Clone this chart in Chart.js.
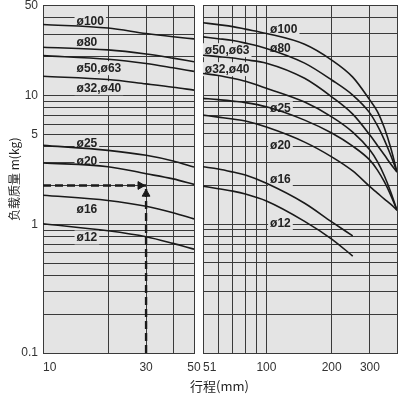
<!DOCTYPE html>
<html>
<head>
<meta charset="utf-8">
<script src="https://cdn.jsdelivr.net/npm/chart.js@4.4.1/dist/chart.umd.min.js"></script>
<style>
  html, body { margin: 0; padding: 0; background: #fff; }
  #wrap { position: relative; width: 405px; height: 398px; }
  #wrap canvas { position: absolute; top: 0; }
  #left { left: 0; }
  #right { left: 190px; }
</style>
</head>
<body>
<div id="wrap">
  <canvas id="left" width="202" height="398"></canvas>
  <canvas id="right" width="215" height="398"></canvas>
</div>
<script>
// axis ticks
const yTicks = [0.1, 0.2, 0.3, 0.4, 0.5, 0.6, 0.7, 0.8, 0.9, 1, 2, 3, 4, 5, 6, 7, 8, 9, 10, 20, 30, 40, 50];
const yLabels = [0.1, 1, 5, 10, 50];
const shortTicks = [10, 20, 30, 40, 50];
const shortLabels = [10, 30, 50];
const longTicks = [51, 60, 70, 80, 90, 100, 200, 300, 400];
const longLabels = [51, 100, 200, 300];

const bores = ['ø100', 'ø80', 'ø50,ø63', 'ø32,ø40', 'ø25', 'ø20', 'ø16', 'ø12'];

// stroke 10..50 mm
const shortStroke = [10, 20, 30, 40, 50];
const short100 = [35.6, 33.4, 30.3, 28.6, 27.5];
const short80 = [23.7, 22.6, 21.0, 19.5, 18.3];
const short50 = [20.4, 19.1, 17.7, 16.4, 15.4];
const short32 = [14.1, 13.3, 12.3, 11.6, 11.0];
const short25 = [4.1, 3.75, 3.43, 3.1, 2.78];
const short20 = [2.99, 2.8, 2.47, 2.25, 2.04];
const short16 = [1.68, 1.53, 1.38, 1.23, 1.1];
const short12 = [1.01, 0.89, 0.8, 0.71, 0.64];

// stroke 51..400 mm (ø16 and ø12 stop at 250)
const longStroke = [51, 60, 70, 80, 100, 150, 200, 250, 300, 325, 350, 375, 400];
const long100 = [36.4, 35.2, 34.0, 32.5, 30.1, 24.8, 18.7, 13.8, 9.15, 7.46, 5.55, 3.85, 2.53];
const long80 = [28.3, 27.4, 26.5, 25.3, 23.0, 17.7, 13.1, 10.0, 7.25, 5.79, 4.48, 3.39, 2.53];
const long50 = [20.4, 19.9, 19.4, 18.8, 17.7, 13.5, 9.7, 7.12, 4.9, 4.07, 3.43, 2.91, 2.53];
const long32 = [14.7, 14.2, 13.5, 12.8, 11.3, 8.83, 6.79, 5.17, 3.75, 3.05, 2.36, 1.76, 1.28];
const long25 = [9.43, 9.23, 8.98, 8.75, 8.12, 6.4, 5.08, 4.02, 3.13, 2.62, 2.12, 1.66, 1.28];
const long20 = [7.0, 6.75, 6.52, 6.29, 5.65, 4.32, 3.32, 2.58, 1.95, 1.74, 1.56, 1.42, 1.28];
const long16 = [2.78, 2.67, 2.53, 2.4, 2.07, 1.45, 1.04, 0.81];
const long12 = [1.97, 1.88, 1.8, 1.71, 1.51, 1.05, 0.765, 0.565];

// example reading: 30 mm stroke -> 2 kg
const exampleStroke = 30;
const exampleMass = 2;

// curve label anchors (data units)
const shortLabelX = [14.3, 14.3, 14.3, 14.3, 14.3, 14.3, 14.3, 14.3];
const shortLabelY = [38.1, 25.9, 16.3, 11.4, 4.27, 3.09, 1.32, 0.79];
const longLabelX = [104, 104, 52, 52, 104, 104, 104, 104];
const longLabelY = [32.5, 23.2, 22.3, 15.9, 7.92, 4.09, 2.23, 1.02];

const BG = '#e4e4e4';
const GRID = '#3a3a3a';
const INK = '#1a1a1a';
const tickFont = { family: '"Liberation Sans", Arial, sans-serif', size: 12 };
const cjkFont = '"Noto Sans CJK SC", "Liberation Sans", sans-serif';

function curve(xs, ys) {
    return {
        data: xs.slice(0, ys.length).map((x, i) => ({ x: x, y: ys[i] })),
        borderColor: INK,
        borderWidth: 1.6,
        pointRadius: 0,
        fill: false,
        cubicInterpolationMode: 'monotone'
    };
}

const panelPlugin = {
    id: 'panel',
    beforeDraw(chart) {
        const { ctx, chartArea: a } = chart;
        ctx.save();
        ctx.fillStyle = BG;
        ctx.fillRect(a.left, a.top, a.right - a.left, a.bottom - a.top);
        ctx.restore();
    },
    beforeDatasetsDraw(chart, args, opts) {
        const { ctx, scales } = chart;
        ctx.save();
        ctx.font = 'bold 12px "Liberation Sans", Arial, sans-serif';
        ctx.textBaseline = 'middle';
        opts.xs.forEach((lx, i) => {
            const px = scales.x.getPixelForValue(lx);
            const py = scales.y.getPixelForValue(opts.ys[i]);
            const w = ctx.measureText(bores[i]).width;
            ctx.fillStyle = BG;
            ctx.fillRect(px - 2, py - 7, w + 4, 14);
            ctx.fillStyle = '#222';
            ctx.fillText(bores[i], px, py + 0.5);
        });
        ctx.restore();
    }
};

function yScale(showLabels, width) {
    return {
        type: 'logarithmic',
        min: 0.1,
        max: 50,
        afterBuildTicks: (s) => { s.ticks = yTicks.map(v => ({ value: v })); },
        afterFit: (s) => {
            s.width = width;
            s.paddingTop = 0;
            s.paddingBottom = 0;
        },
        grid: { color: GRID, lineWidth: 1, drawTicks: false },
        border: { display: true, color: GRID, width: 1 },
        ticks: {
            display: showLabels,
            autoSkip: false,
            padding: 5,
            color: '#333',
            font: tickFont,
            callback: (v) => yLabels.includes(v) ? String(v) : ''
        },
        title: {
            display: showLabels,
            text: '负载质量 m(kg)',
            color: '#222',
            font: { family: cjkFont, size: 12 },
            padding: { top: 7, bottom: 0 }
        }
    };
}

function xScale(min, max, ticks, labels, height) {
    return {
        type: 'logarithmic',
        min: min,
        max: max,
        afterBuildTicks: (s) => { s.ticks = ticks.map(v => ({ value: v })); },
        afterFit: (s) => {
            s.height = height;
            s.paddingLeft = 0;
            s.paddingRight = 0;
        },
        grid: { color: GRID, lineWidth: 1, drawTicks: false },
        border: { display: true, color: GRID, width: 1 },
        ticks: {
            autoSkip: false,
            maxRotation: 0,
            padding: 7,
            color: '#333',
            font: tickFont,
            callback: (v) => {
                if (!labels.includes(v)) return '';
                return v === min ? '    ' + v : String(v);
            }
        }
    };
}

const dashed = {
    borderColor: INK,
    borderWidth: 2.4,
    borderDash: [8, 4],
    pointRadius: 0,
    fill: false
};

new Chart(document.getElementById('left'), {
    type: 'line',
    data: {
        datasets: [
            curve(shortStroke, short100),
            curve(shortStroke, short80),
            curve(shortStroke, short50),
            curve(shortStroke, short32),
            curve(shortStroke, short25),
            curve(shortStroke, short20),
            curve(shortStroke, short16),
            curve(shortStroke, short12),
            Object.assign({ data: [{ x: 10, y: exampleMass }, { x: exampleStroke, y: exampleMass }] }, dashed),
            Object.assign({ data: [{ x: exampleStroke, y: 0.1 }, { x: exampleStroke, y: exampleMass }] }, dashed),
            {
                data: [{ x: exampleStroke * 0.94, y: exampleMass }],
                showLine: false,
                pointStyle: 'triangle',
                rotation: 90,
                pointRadius: 4.5,
                backgroundColor: INK,
                borderColor: INK
            },
            {
                data: [{ x: exampleStroke, y: exampleMass * 0.86 }],
                showLine: false,
                pointStyle: 'triangle',
                rotation: 0,
                pointRadius: 4.5,
                backgroundColor: INK,
                borderColor: INK
            }
        ]
    },
    options: {
        responsive: false,
        animation: false,
        layout: { padding: { top: 5, right: 8, left: 0, bottom: 0 } },
        scales: {
            x: xScale(10, 50, shortTicks, shortLabels, 45),
            y: yScale(true, 43)
        },
        plugins: {
            legend: { display: false },
            tooltip: { enabled: false },
            panel: { xs: shortLabelX, ys: shortLabelY }
        }
    },
    plugins: [panelPlugin]
});

new Chart(document.getElementById('right'), {
    type: 'line',
    data: {
        datasets: [
            curve(longStroke, long100),
            curve(longStroke, long80),
            curve(longStroke, long50),
            curve(longStroke, long32),
            curve(longStroke, long25),
            curve(longStroke, long20),
            curve(longStroke, long16),
            curve(longStroke, long12)
        ]
    },
    options: {
        responsive: false,
        animation: false,
        layout: { padding: { top: 5, right: 8, left: 0, bottom: 0 } },
        scales: {
            x: xScale(51, 400, longTicks, longLabels, 21.4),
            y: yScale(false, 13)
        },
        plugins: {
            legend: { display: false },
            tooltip: { enabled: false },
            title: {
                display: true,
                position: 'bottom',
                align: 'start',
                text: '行程(mm)',
                color: '#222',
                font: { family: cjkFont, size: 13, weight: 'normal' },
                padding: { top: 4, bottom: 4 }
            },
            panel: { xs: longLabelX, ys: longLabelY }
        }
    },
    plugins: [panelPlugin]
});
</script>
</body>
</html>
